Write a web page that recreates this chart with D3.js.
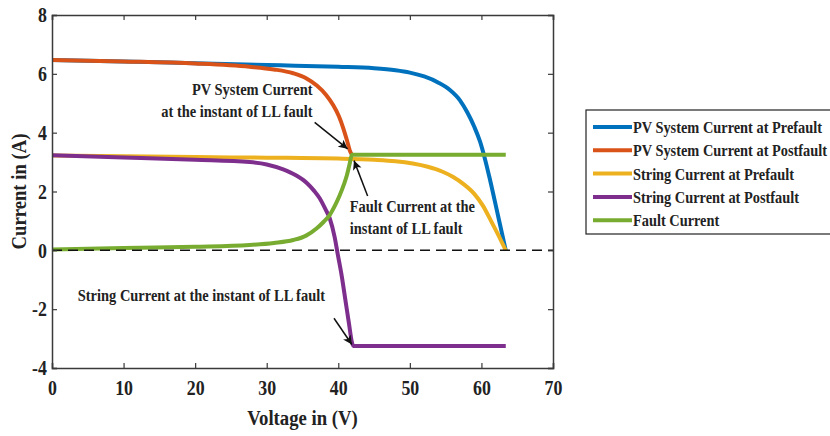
<!DOCTYPE html>
<html>
<head>
<meta charset="utf-8">
<script src="https://cdn.jsdelivr.net/npm/d3@7/dist/d3.min.js"></script>
<style>
  html, body { margin: 0; padding: 0; background: #fff; }
  svg { display: block; }
  text { font-family: "Liberation Serif", "Times New Roman", serif; font-weight: bold; fill: #222; }
</style>
</head>
<body>
<svg id="chart" width="830" height="436"></svg>
<script>
// I-V characteristics before and after a line-line (LL) fault, [voltage V, current A]
const pvPrefault = [[0,6.47],[10,6.42],[20,6.36],[32,6.29],[40,6.24],[45,6.19],[48,6.12],[50,6.04],[52,5.91],[54,5.7],[55.6,5.45],[57,5.1],[58,4.7],[59,4.2],[59.8,3.7],[60.5,3.1],[61.2,2.4],[62.3,1.2],[63.4,0]];
const pvPostfault = [[0,6.47],[10,6.42],[20,6.35],[27.6,6.24],[31,6.15],[33.7,6.02],[35.5,5.85],[37,5.6],[38.3,5.28],[39.3,4.93],[40.1,4.55],[40.7,4.15],[41.2,3.75],[41.6,3.4],[41.9,3.25]];
const stringPrefault = [[0,3.22],[10,3.2],[20,3.17],[30,3.15],[40,3.12],[45,3.08],[48,3.03],[50.4,2.95],[52.5,2.84],[54.5,2.68],[56,2.5],[57.5,2.25],[59,1.92],[60.2,1.52],[61.3,1.02],[62.4,0.5],[63.4,0]];
const stringPostfault = [[0,3.23],[10,3.16],[20,3.08],[27.6,3.0],[30,2.92],[32.3,2.75],[34,2.56],[35.6,2.29],[36.6,2.03],[37.4,1.77],[38.2,1.4],[38.8,1.09],[39.5,0.44],[39.9,-0.1],[40.5,-0.9],[41,-1.7],[41.5,-2.5],[41.9,-3.12],[42.1,-3.25],[63.4,-3.25]];
const faultCurrent = [[0,0.03],[10,0.08],[20,0.12],[27.6,0.18],[31,0.25],[33.7,0.35],[35.5,0.5],[37,0.75],[38,0.98],[38.8,1.2],[39.6,1.55],[40.2,1.87],[40.8,2.25],[41.2,2.55],[41.6,2.95],[41.9,3.25],[63.4,3.25]];

const seriesNames = ["PV System Current at Prefault", "PV System Current at Postfault", "String Current at Prefault", "String Current at Postfault", "Fault Current"];
const seriesData = [pvPrefault, pvPostfault, stringPrefault, stringPostfault, faultCurrent];
const seriesColors = ["#0072BD", "#D95319", "#EDB120", "#7E2F8E", "#77AC30"];

const xTicks = [0, 10, 20, 30, 40, 50, 60, 70];
const yTicks = [-4, -2, 0, 2, 4, 6, 8];

// callouts: text lines anchored in data units, arrow tail -> head in data units
const callouts = [
  { lines: ["PV System Current", "at the instant of LL fault"], at: [36.4, 5.27], anchor: "end", tail: [36.7, 4.35], head: [41.3, 3.45] },
  { lines: ["Fault Current at the", "instant of LL fault"], at: [41.6, 1.29], anchor: "start", tail: [44.1, 1.85], head: [42.2, 3.05] },
  { lines: ["String Current at the instant of LL fault"], at: [3.6, -1.73], anchor: "start", tail: [39.4, -2.31], head: [41.9, -3.2] }
];

// the type is set slightly condensed (narrow, tall bold serif)
const SX = 0.85;

const svg = d3.select("#chart");
const plot = { left: 52, right: 553, top: 15, bottom: 368 };

const x = d3.scaleLinear().domain([0, 70]).range([plot.left, plot.right]);
const y = d3.scaleLinear().domain([-4, 8]).range([plot.bottom, plot.top]);

const defs = svg.append("defs");
defs.append("clipPath").attr("id", "plotClip")
  .append("rect").attr("x", plot.left).attr("y", plot.top)
  .attr("width", plot.right - plot.left).attr("height", plot.bottom - plot.top);

defs.append("marker")
  .attr("id", "arrowHead").attr("viewBox", "0 0 10 10")
  .attr("refX", 10).attr("refY", 5)
  .attr("markerWidth", 12).attr("markerHeight", 9)
  .attr("markerUnits", "userSpaceOnUse")
  .attr("orient", "auto")
  .append("path").attr("d", "M0,0 L10,5 L0,10 L2.5,5 Z").attr("fill", "#111");

function label(parent, px, py, size, anchor, extra) {
  return parent.append("text")
    .attr("transform", `translate(${px},${py}) ${extra || ""} scale(${SX},1)`)
    .attr("text-anchor", anchor)
    .attr("font-size", size);
}

// curves
const line = d3.line().x(d => x(d[0])).y(d => y(d[1])).curve(d3.curveMonotoneX);
const curves = svg.append("g").attr("clip-path", "url(#plotClip)");
seriesData.forEach((data, i) => {
  curves.append("path").datum(data)
    .attr("d", line)
    .attr("fill", "none")
    .attr("stroke", seriesColors[i])
    .attr("stroke-width", 4)
    .attr("stroke-linejoin", "round");
});

// zero-current reference line
svg.append("line")
  .attr("x1", x(0)).attr("x2", x(70))
  .attr("y1", y(0)).attr("y2", y(0))
  .attr("stroke", "#111").attr("stroke-width", 1.5)
  .attr("stroke-dasharray", "10,6");

// axes with inward ticks on all four sides
const axisColor = "#3a3a3a";
const fmt = d => String(d);
const gx = svg.append("g").attr("transform", `translate(0,${plot.bottom})`)
  .call(d3.axisBottom(x).tickValues(xTicks).tickSize(-5).tickPadding(12).tickFormat(fmt));
const gxTop = svg.append("g").attr("transform", `translate(0,${plot.top})`)
  .call(d3.axisTop(x).tickValues(xTicks).tickSize(-5).tickFormat(""));
const gy = svg.append("g").attr("transform", `translate(${plot.left},0)`)
  .call(d3.axisLeft(y).tickValues(yTicks).tickSize(-5).tickPadding(6).tickFormat(fmt));
const gyRight = svg.append("g").attr("transform", `translate(${plot.right},0)`)
  .call(d3.axisRight(y).tickValues(yTicks).tickSize(-5).tickFormat(""));

[gx, gxTop, gy, gyRight].forEach(g => {
  g.select(".domain").attr("stroke", axisColor).attr("stroke-width", 1.5);
  g.selectAll(".tick line").attr("stroke", axisColor).attr("stroke-width", 1.2);
  g.selectAll(".tick text")
    .attr("font-family", "Liberation Serif, Times New Roman, serif")
    .attr("font-weight", "bold").attr("font-size", 21).attr("fill", "#222")
    .attr("transform", `scale(${SX},1)`);
});
gx.selectAll(".tick text").attr("dy", "0.71em");

// axis titles
label(svg, (plot.left + plot.right) / 2, 425, 22, "middle").text("Voltage in (V)");
label(svg, 26, (plot.top + plot.bottom) / 2, 22, "middle", "rotate(-90)").text("Current in (A)");

// callouts
callouts.forEach(c => {
  svg.append("line")
    .attr("x1", x(c.tail[0])).attr("y1", y(c.tail[1]))
    .attr("x2", x(c.head[0])).attr("y2", y(c.head[1]))
    .attr("stroke", "#111").attr("stroke-width", 1.5)
    .attr("marker-end", "url(#arrowHead)");
  const t = label(svg, x(c.at[0]), y(c.at[1]), 17, c.anchor);
  c.lines.forEach((s, i) => {
    t.append("tspan").attr("x", 0).attr("dy", i === 0 ? 0 : 22).text(s);
  });
});

// legend
const legend = svg.append("g");
legend.append("rect")
  .attr("x", 586).attr("y", 110).attr("width", 260).attr("height", 124)
  .attr("fill", "#fff").attr("stroke", "#222").attr("stroke-width", 1.2);
seriesNames.forEach((name, i) => {
  const ry = 127 + i * 23.3;
  legend.append("line")
    .attr("x1", 593).attr("x2", 632).attr("y1", ry).attr("y2", ry)
    .attr("stroke", seriesColors[i]).attr("stroke-width", 4);
  label(legend, 633, ry + 6, 16.9, "start").text(name);
});
</script>
</body>
</html>
